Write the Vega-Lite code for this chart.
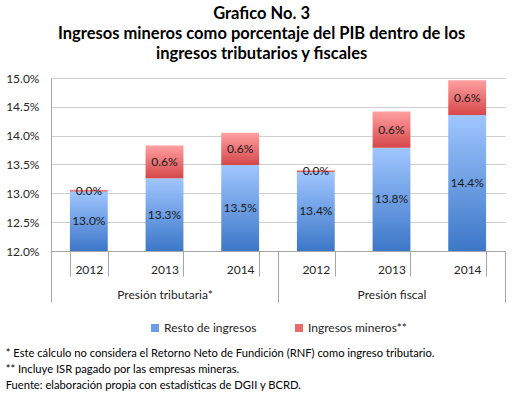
{
  "$schema": "https://vega.github.io/schema/vega-lite/v6.json",
  "background": "white",
  "padding": 5,
  "title": {
    "text": ["Grafico No. 3", "Ingresos mineros como porcentaje del PIB dentro de los", "ingresos tributarios y fiscales"],
    "anchor": "middle",
    "font": "Lato",
    "fontSize": 16.5,
    "fontWeight": "bold",
    "lineHeight": 20,
    "color": "black",
    "offset": 10,
    "dx": 6
  },
  "datasets": {
    "d": [
      {"grupo": "Presión tributaria*", "anio": "2012", "clave": "Presión tributaria* 2012", "serie": "Resto de ingresos", "orden": 1, "valor": 0.1303},
      {"grupo": "Presión tributaria*", "anio": "2012", "clave": "Presión tributaria* 2012", "serie": "Ingresos mineros**", "orden": 2, "valor": 0.0003},
      {"grupo": "Presión tributaria*", "anio": "2013", "clave": "Presión tributaria* 2013", "serie": "Resto de ingresos", "orden": 1, "valor": 0.1326},
      {"grupo": "Presión tributaria*", "anio": "2013", "clave": "Presión tributaria* 2013", "serie": "Ingresos mineros**", "orden": 2, "valor": 0.0057},
      {"grupo": "Presión tributaria*", "anio": "2014", "clave": "Presión tributaria* 2014", "serie": "Resto de ingresos", "orden": 1, "valor": 0.1349},
      {"grupo": "Presión tributaria*", "anio": "2014", "clave": "Presión tributaria* 2014", "serie": "Ingresos mineros**", "orden": 2, "valor": 0.0056},
      {"grupo": "Presión fiscal", "anio": "2012", "clave": "Presión fiscal 2012", "serie": "Resto de ingresos", "orden": 1, "valor": 0.1337},
      {"grupo": "Presión fiscal", "anio": "2012", "clave": "Presión fiscal 2012", "serie": "Ingresos mineros**", "orden": 2, "valor": 0.0003},
      {"grupo": "Presión fiscal", "anio": "2013", "clave": "Presión fiscal 2013", "serie": "Resto de ingresos", "orden": 1, "valor": 0.1379},
      {"grupo": "Presión fiscal", "anio": "2013", "clave": "Presión fiscal 2013", "serie": "Ingresos mineros**", "orden": 2, "valor": 0.0063},
      {"grupo": "Presión fiscal", "anio": "2014", "clave": "Presión fiscal 2014", "serie": "Resto de ingresos", "orden": 1, "valor": 0.1436},
      {"grupo": "Presión fiscal", "anio": "2014", "clave": "Presión fiscal 2014", "serie": "Ingresos mineros**", "orden": 2, "valor": 0.0060}
    ]
  },
  "vconcat": [
    {
      "width": 454,
      "height": 173,
      "data": {"name": "d"},
      "title": {
        "text": ["* Este cálculo no considera el Retorno Neto de Fundición (RNF) como ingreso tributario.", "** Incluye ISR pagado por las empresas mineras.", "Fuente: elaboración propia con estadísticas de DGII y BCRD."],
        "orient": "bottom",
        "anchor": "start",
        "font": "Lato",
        "fontSize": 11.2,
        "fontWeight": "normal",
        "lineHeight": 16,
        "color": "black",
        "offset": 14
      },
      "layer": [
        {
          "transform": [{"filter": "datum.orden == 1"}],
          "mark": {"type": "bar", "fill": {"gradient": "linear", "x1": 0, "y1": 0, "x2": 0, "y2": 1, "stops": [{"offset": 0, "color": "#a0c6ff"}, {"offset": 1, "color": "#3c77c8"}]}},
          "encoding": {
            "x": {"field": "clave", "type": "nominal",
              "scale": {"domain": ["Presión tributaria* 2012", "Presión tributaria* 2013", "Presión tributaria* 2014", "Presión fiscal 2012", "Presión fiscal 2013", "Presión fiscal 2014"], "paddingInner": 0.5, "paddingOuter": 0.25},
              "axis": {"title": null, "orient": "bottom", "labelExpr": "slice(datum.label, -4)", "labelAngle": 0, "tickBand": "extent", "tickSize": 25, "labelPadding": -12, "grid": false}},
            "y": {"field": "valor", "type": "quantitative",
              "scale": {"domain": [0.12, 0.15], "zero": false, "nice": false},
              "axis": {"title": null, "values": [0.12, 0.125, 0.13, 0.135, 0.14, 0.145, 0.15], "format": ".1%", "ticks": false, "labelPadding": 12, "grid": true, "domain": true}},
            "y2": {"datum": 0.12}
          }
        },
        {
          "transform": [
            {"stack": "valor", "groupby": ["clave"], "sort": [{"field": "orden", "order": "ascending"}], "as": ["v0", "v1"]},
            {"filter": "datum.orden == 2"}
          ],
          "mark": {"type": "bar", "fill": {"gradient": "linear", "x1": 0, "y1": 0, "x2": 0, "y2": 1, "stops": [{"offset": 0, "color": "#ffa0a0"}, {"offset": 1, "color": "#d6474a"}]}},
          "encoding": {
            "x": {"field": "clave", "type": "nominal",
              "scale": {"domain": ["Presión tributaria* 2012", "Presión tributaria* 2013", "Presión tributaria* 2014", "Presión fiscal 2012", "Presión fiscal 2013", "Presión fiscal 2014"], "paddingInner": 0.5, "paddingOuter": 0.25},
              "axis": null},
            "y": {"field": "v1", "type": "quantitative", "scale": {"domain": [0.12, 0.15], "zero": false, "nice": false}, "axis": null},
            "y2": {"field": "v0"}
          }
        },
        {
          "mark": {"type": "text", "clip": true, "font": "Lato", "fontSize": 12, "color": "#1a1a1a"},
          "encoding": {
            "x": {"field": "clave", "type": "nominal",
              "scale": {"domain": ["Presión tributaria* 2012", "Presión tributaria* 2013", "Presión tributaria* 2014", "Presión fiscal 2012", "Presión fiscal 2013", "Presión fiscal 2014"], "paddingInner": 0.5, "paddingOuter": 0.25},
              "axis": null},
            "y": {"field": "valor", "type": "quantitative", "stack": "zero", "bandPosition": 0.5, "scale": {"domain": [0.12, 0.15], "zero": false, "nice": false}, "axis": null},
            "detail": {"field": "serie"},
            "order": {"field": "orden"},
            "text": {"condition": {"test": "datum.orden == 1", "value": ""}, "field": "valor", "type": "quantitative", "format": ".1%"}
          }
        },
        {
          "transform": [{"filter": "datum.orden == 1"}],
          "mark": {"type": "text", "font": "Lato", "fontSize": 12, "color": "#1a1a1a"},
          "encoding": {
            "x": {"field": "clave", "type": "nominal",
              "scale": {"domain": ["Presión tributaria* 2012", "Presión tributaria* 2013", "Presión tributaria* 2014", "Presión fiscal 2012", "Presión fiscal 2013", "Presión fiscal 2014"], "paddingInner": 0.5, "paddingOuter": 0.25},
              "axis": null},
            "y": {"field": "valor", "type": "quantitative", "stack": "zero", "bandPosition": 0.5, "scale": {"domain": [0.06, 0.09], "zero": false, "nice": false}, "axis": null},
            "detail": {"field": "serie"},
            "text": {"field": "valor", "type": "quantitative", "format": ".1%"}
          }
        },
        {
          "mark": {"type": "square", "opacity": 0},
          "encoding": {
            "x": {"field": "grupo", "type": "nominal",
              "scale": {"type": "band", "domain": ["Presión tributaria*", "Presión fiscal"], "paddingInner": 0, "paddingOuter": 0},
              "axis": {"title": null, "orient": "bottom", "labelAngle": 0, "tickBand": "extent", "tickSize": 51, "labelPadding": -13, "domain": false, "grid": false}},
            "color": {"field": "serie", "type": "nominal",
              "scale": {"domain": ["Resto de ingresos", "Ingresos mineros**"], "range": ["#6d9ce9", "#e86b6b"]},
              "legend": {"title": null, "orient": "bottom", "direction": "horizontal", "symbolType": "square", "symbolSize": 64, "symbolOpacity": 1, "symbolStrokeWidth": 0, "labelFontSize": 12, "columnPadding": 36, "labelOffset": 3, "offset": 19}}
          }
        }
      ],
      "resolve": {"scale": {"x": "independent", "y": "independent"}, "axis": {"x": "independent", "y": "independent"}}
    }
  ],
  "resolve": {"scale": {"color": "independent"}, "legend": {"color": "independent"}},
  "config": {
    "view": {"stroke": null},
    "font": "Lato",
    "axis": {"labelFont": "Lato", "labelFontSize": 12, "labelColor": "#262626", "domainColor": "#a6a6a6", "tickColor": "#a6a6a6", "gridColor": "#cfcfcf"},
    "legend": {"labelFont": "Lato", "labelColor": "#262626", "layout": {"bottom": {"anchor": "middle"}}}
  }
}
